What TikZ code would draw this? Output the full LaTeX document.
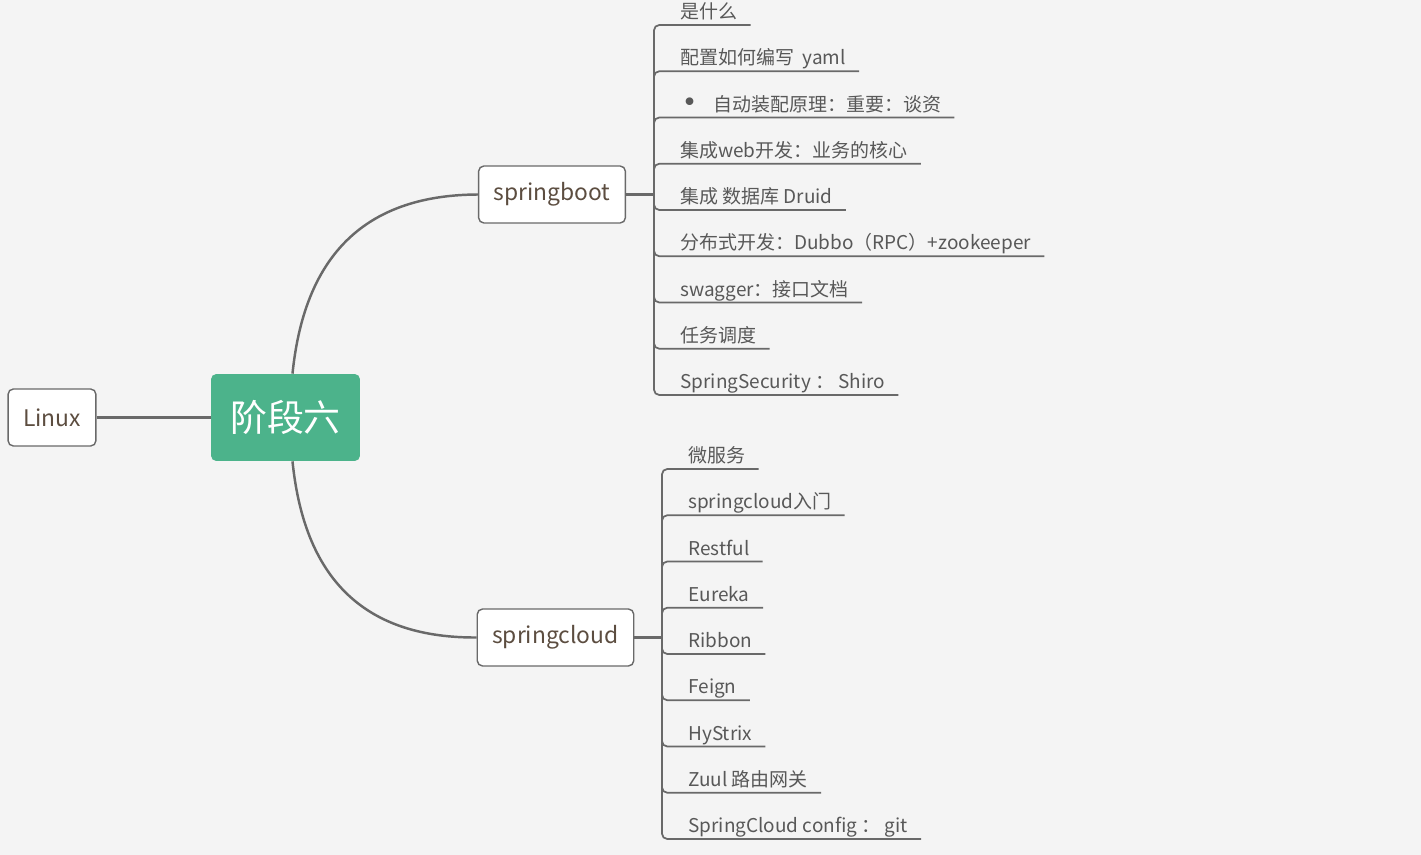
\documentclass[tikz,border=0pt]{standalone}
\usepackage{fontspec}
\setmainfont{Noto Sans CJK SC}
\newfontfamily\dotfont{DejaVu Sans}
\usepackage{tikz}
\definecolor{stagegreen}{RGB}{76,179,139}
\definecolor{linegray}{RGB}{105,105,105}
\definecolor{boxtext}{RGB}{92,77,64}
\definecolor{leaftext}{RGB}{88,88,88}
\definecolor{paper}{RGB}{244,244,244}

\begin{document}
\begin{tikzpicture}[x=0.02cm, y=-0.02cm]
    \tikzstyle{topic}=[draw=linegray, line width=0.8pt, rounded corners=3pt, fill=white, text=boxtext, font=\fontsize{13}{15}\selectfont, minimum height=1.14cm, inner xsep=0.3cm]
    \tikzstyle{leaf}=[anchor=south west, inner xsep=0.26cm, inner ysep=0.12cm, text depth=0pt, text=leaftext, font=\fontsize{10.8}{12}\selectfont]
    \tikzstyle{link}=[draw=linegray, line width=1.4pt]
    \tikzstyle{branch}=[draw=linegray, line width=1pt, rounded corners=3pt]

    \fill[paper] (0,0) rectangle (1421,855);
    \useasboundingbox (0,0) rectangle (1421,855);

    \node[fill=stagegreen, rounded corners=3pt, text=white, minimum width=2.98cm, minimum height=1.74cm, font=\fontsize{21}{24}\selectfont] (stage) at (285.5,417.5) {阶段六};
    \node[topic] (linux) at (52,417.5) {Linux};
    \node[topic] (boot) at (552,194.5) {springboot};
    \node[topic] (cloud) at (555.5,637.5) {springcloud};

    \draw[link] (linux) -- (stage);
    \draw[link] (stage.north) ++(7,0) .. controls (305,250) and (370,195) .. (boot.west);
    \draw[link] (stage.south) ++(7,0) .. controls (305,585) and (370,638) .. (cloud.west);

    \coordinate (bootfork) at (654,194.5);
    \coordinate (cloudfork) at (662,637.5);
    \draw[link] (boot) -- (bootfork);
    \draw[link] (cloud) -- (cloudfork);

    \foreach \t [count=\i] in {{是什么}, {配置如何编写\ \ yaml}, {\hspace{0.03cm}{\dotfont\fontsize{15}{15}\selectfont\raisebox{-0.02em}{•}}\hspace{0.32cm}自动装配原理：重要：谈资}, {集成web开发：业务的核心}, {集成 数据库 Druid}, {分布式开发：Dubbo（RPC）+zookeeper}, {swagger：接口文档}, {任务调度}, {SpringSecurity ： Shiro}} {
        \pgfmathsetmacro{\y}{25 + (\i-1) * 46.25}
        \node[leaf] (b\i) at (667,\y) {\t};
        \draw[branch] (bootfork) |- (b\i.south east);
    }

    \foreach \t [count=\i] in {{微服务}, {springcloud入门}, {Restful}, {Eureka}, {Ribbon}, {Feign}, {HyStrix}, {Zuul 路由网关}, {SpringCloud config ： git}} {
        \pgfmathsetmacro{\y}{469 + (\i-1) * 46.25}
        \node[leaf] (c\i) at (675,\y) {\t};
        \draw[branch] (cloudfork) |- (c\i.south east);
    }
\end{tikzpicture}
\end{document}
